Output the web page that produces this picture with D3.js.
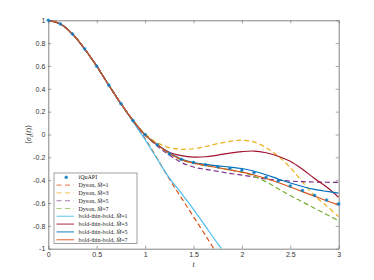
<!DOCTYPE html>
<html><head><meta charset="utf-8">
<script src="https://cdn.jsdelivr.net/npm/d3@7"></script>
<style>body{margin:0;background:#fff}svg{display:block}</style>
</head><body><svg id="c" width="374" height="280"></svg>
<script>
const tGrid = [0,0.125,0.25,0.375,0.5,0.625,0.75,0.875,1,1.125,1.25,1.375,1.5,1.625,1.75,1.875,2,2.125,2.25,2.375,2.5,2.625,2.75,2.875,3];
const iquapi = [1,0.968,0.88,0.75,0.598,0.432,0.27,0.122,0.0,-0.09,-0.17,-0.218,-0.245,-0.265,-0.282,-0.297,-0.312,-0.334,-0.375,-0.407,-0.45,-0.49,-0.533,-0.574,-0.608];
const dysonM1T = [0,0.125,0.25,0.375,0.5,0.625,0.75,0.875,1,1.125,1.25,1.375,1.5,1.625,1.71];
const dysonM1 = [1,0.968,0.88,0.75,0.598,0.432,0.27,0.122,-0.035,-0.21,-0.39,-0.555,-0.72,-0.885,-1.0];
const dysonM3 = [1,0.968,0.88,0.75,0.598,0.432,0.27,0.125,0.005,-0.072,-0.115,-0.13,-0.125,-0.105,-0.08,-0.06,-0.05,-0.065,-0.115,-0.19,-0.29,-0.415,-0.535,-0.625,-0.72];
const dysonM5 = [1,0.968,0.88,0.75,0.598,0.432,0.27,0.122,-0.003,-0.1,-0.18,-0.245,-0.285,-0.305,-0.323,-0.34,-0.355,-0.372,-0.39,-0.4,-0.408,-0.413,-0.416,-0.418,-0.42];
const dysonM7 = [1,0.968,0.88,0.75,0.598,0.432,0.27,0.122,-0.003,-0.09,-0.165,-0.222,-0.252,-0.272,-0.29,-0.31,-0.33,-0.365,-0.415,-0.475,-0.535,-0.59,-0.645,-0.7,-0.755];
const btbM1T = [0,0.125,0.25,0.375,0.5,0.625,0.75,0.875,1,1.125,1.25,1.375,1.5,1.625,1.75,1.79];
const btbM1 = [1,0.968,0.88,0.75,0.598,0.432,0.27,0.112,-0.045,-0.215,-0.38,-0.515,-0.655,-0.805,-0.955,-1.0];
const btbM3 = [1,0.968,0.88,0.75,0.598,0.432,0.27,0.122,-0.003,-0.09,-0.155,-0.185,-0.198,-0.195,-0.18,-0.163,-0.15,-0.145,-0.16,-0.19,-0.235,-0.305,-0.385,-0.46,-0.55];
const btbM5 = [1,0.968,0.88,0.75,0.598,0.432,0.27,0.122,-0.003,-0.09,-0.16,-0.215,-0.245,-0.262,-0.275,-0.285,-0.298,-0.322,-0.352,-0.39,-0.425,-0.455,-0.48,-0.498,-0.513];
const btbM7 = [1,0.968,0.88,0.75,0.598,0.432,0.27,0.122,-0.003,-0.09,-0.165,-0.22,-0.25,-0.27,-0.29,-0.31,-0.33,-0.355,-0.385,-0.42,-0.46,-0.5,-0.54,-0.58,-0.618];
const xTicks = [0,0.5,1,1.5,2,2.5,3];
const yTicks = [-1,-0.8,-0.6,-0.4,-0.2,0,0.2,0.4,0.6,0.8,1];
const legendLabels = ["iQuAPI","Dyson, ","Dyson, ","Dyson, ","Dyson, ","bold-thin-bold, ","bold-thin-bold, ","bold-thin-bold, ","bold-thin-bold, "];
const legendM = [null,1,3,5,7,1,3,5,7];

const svg = d3.select("#c");
const L=48.3, R=338.7, T=20.3, B=248.7;
const x = d3.scaleLinear().domain([0,3]).range([L,R]);
const y = d3.scaleLinear().domain([-1,1]).range([B,T]);
const axisCol="#666", textCol="#333";

svg.append("defs").append("clipPath").attr("id","clip").append("rect")
  .attr("x",L).attr("y",T).attr("width",R-L).attr("height",B-T);

const fmt = d=>String(d);
const ax = [
  [d3.axisBottom(x).tickValues(xTicks).tickFormat(fmt).tickSizeInner(-3).tickSizeOuter(0), `translate(0,${B})`],
  [d3.axisTop(x).tickValues(xTicks).tickFormat("").tickSizeInner(-3).tickSizeOuter(0), `translate(0,${T})`],
  [d3.axisLeft(y).tickValues(yTicks).tickFormat(fmt).tickSizeInner(-3).tickSizeOuter(0), `translate(${L},0)`],
  [d3.axisRight(y).tickValues(yTicks).tickFormat("").tickSizeInner(-3).tickSizeOuter(0), `translate(${R},0)`]
];
ax.forEach(([a,tr])=>{
  const g = svg.append("g").attr("transform",tr).call(a);
  g.select(".domain").attr("stroke",axisCol).attr("stroke-width",0.8);
  g.selectAll(".tick line").attr("stroke",axisCol).attr("stroke-width",0.6);
  g.selectAll(".tick text").attr("fill",textCol).attr("font-family","Liberation Sans, Arial, sans-serif").attr("font-size",7);
});

const line = d3.line().x(d=>x(d[0])).y(d=>y(d[1])).curve(d3.curveCatmullRom.alpha(0.5));
const plot = svg.append("g").attr("clip-path","url(#clip)");
const zip = (ts,vs)=>ts.map((t,i)=>[t,vs[i]]);
const series = [
  {t:dysonM1T, v:dysonM1, c:"#D95319", dash:"5,3"},
  {t:tGrid, v:dysonM3, c:"#EDB120", dash:"5,3"},
  {t:tGrid, v:dysonM5, c:"#7E2F8E", dash:"5,3"},
  {t:tGrid, v:dysonM7, c:"#77AC30", dash:"5,3"},
  {t:btbM1T, v:btbM1, c:"#4DBEEE", dash:null},
  {t:tGrid, v:btbM3, c:"#A2142F", dash:null},
  {t:tGrid, v:btbM5, c:"#0072BD", dash:null},
  {t:tGrid, v:btbM7, c:"#D95319", dash:null}
];
function star(g,cx,cy){
  const r=1.8, d=r*0.707;
  g.append("circle").attr("cx",cx).attr("cy",cy).attr("r",1.6).attr("fill","#4DBEEE").attr("opacity",0.55);
  g.append("path").attr("d",`M${cx-r},${cy}L${cx+r},${cy}M${cx},${cy-r}L${cx},${cy+r}M${cx-d},${cy-d}L${cx+d},${cy+d}M${cx-d},${cy+d}L${cx+d},${cy-d}`)
    .attr("stroke","#0072BD").attr("stroke-width",0.7).attr("fill","none");
}
const mk = svg.append("g");
tGrid.forEach((t,i)=>star(mk,x(t),y(iquapi[i])));
series.forEach(s=>{
  plot.append("path").datum(zip(s.t,s.v)).attr("d",line)
    .attr("fill","none").attr("stroke",s.c).attr("stroke-width",1.2)
    .attr("stroke-dasharray",s.dash);
});

svg.append("text").attr("x",(L+R)/2).attr("y",267).attr("text-anchor","middle")
  .attr("font-family","Liberation Serif, serif").attr("font-style","italic").attr("font-size",8).attr("fill",textCol).text("t");
const yl = svg.append("text").attr("transform",`translate(31,${(T+B)/2}) rotate(-90)`).attr("text-anchor","middle")
  .attr("font-family","Liberation Serif, serif").attr("font-size",7.5).attr("fill",textCol);
yl.append("tspan").text("⟨");
yl.append("tspan").attr("font-style","italic").text("σ");
yl.append("tspan").attr("font-style","italic").attr("font-size",5.5).attr("dy",1.5).text("z");
yl.append("tspan").attr("dy",-1.5).text("(");
yl.append("tspan").attr("font-style","italic").text("t");
yl.append("tspan").text(")⟩");

const lg = svg.append("g");
lg.append("rect").attr("x",54).attr("y",173).attr("width",83).attr("height",70.5)
  .attr("fill","#fff").attr("stroke","#888").attr("stroke-width",0.8);
const rowY = i=>177.3+i*7.8;
legendLabels.forEach((lab,i)=>{
  const yy=rowY(i);
  if(i===0){ star(lg,66.2,yy); }
  else {
    const s=series[i-1];
    lg.append("line").attr("x1",56.5).attr("x2",74).attr("y1",yy).attr("y2",yy)
      .attr("stroke",s.c).attr("stroke-width",s.dash?1.1:1.4).attr("opacity",0.65)
      .attr("stroke-dasharray",s.dash?"5,3.5":null);
  }
  const tx = lg.append("text").attr("x",78.5).attr("y",yy+2).attr("font-family","Liberation Serif, serif")
    .attr("font-size",6).attr("fill","#222");
  tx.append("tspan").text(lab);
  if(legendM[i]!==null){
    tx.append("tspan").attr("font-style","italic").text("M\u0303");
    tx.append("tspan").text("=" + legendM[i]);
  }
});
</script></body></html>
